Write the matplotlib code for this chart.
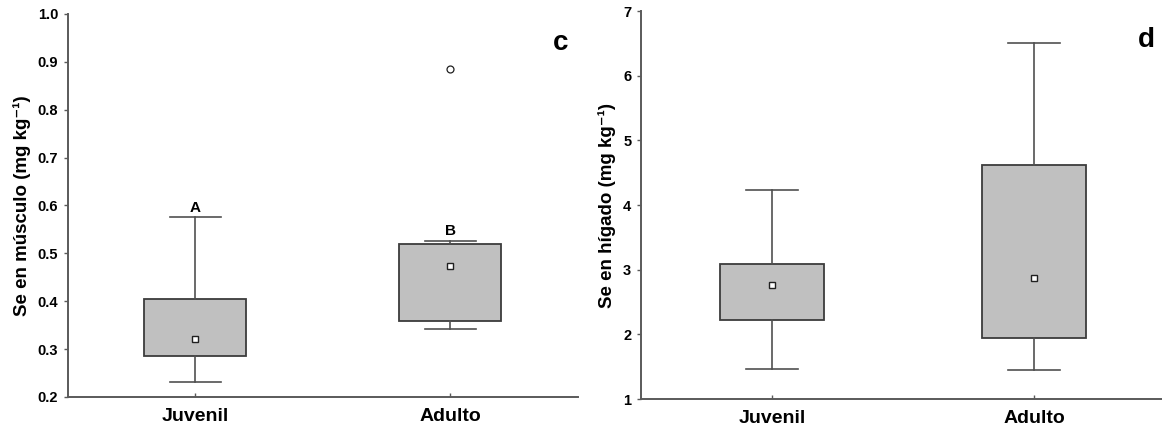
import matplotlib
matplotlib.use('Agg')
import matplotlib.pyplot as plt

plt.rcParams['font.family'] = ['Liberation Sans', 'DejaVu Sans']
plt.rcParams['font.weight'] = 'bold'

grupos = ['Juvenil', 'Adulto']

# Se en músculo (panel c)
musculo_q1 = [0.286, 0.359]
musculo_q3 = [0.404, 0.519]
musculo_min = [0.231, 0.343]
musculo_max = [0.575, 0.526]
musculo_centro = [0.322, 0.474]
musculo_atipicos = [[], [0.885]]
musculo_letras = ['A', 'B']

# Se en hígado (panel d)
higado_q1 = [2.222, 1.948]
higado_q3 = [3.088, 4.623]
higado_min = [1.464, 1.453]
higado_max = [4.227, 6.51]
higado_centro = [2.758, 2.876]
higado_atipicos = [[], []]

GRIS_BORDE = '#3c3c3c'
GRIS_LINEA = '#505050'
GRIS_EJE = '#5a5a5a'


def dibujar_cajas(ax, q1, q3, vmin, vmax, centro, atipicos):
    stats = []
    for i in range(len(grupos)):
        stats.append({
            'med': centro[i], 'mean': centro[i],
            'q1': q1[i], 'q3': q3[i],
            'whislo': vmin[i], 'whishi': vmax[i],
            'fliers': atipicos[i], 'label': grupos[i],
        })
    ax.bxp(stats, positions=[1, 2], widths=0.4, patch_artist=True,
           showmeans=True, showfliers=True,
           boxprops=dict(facecolor='#c0c0c0', edgecolor=GRIS_BORDE, linewidth=1.3),
           whiskerprops=dict(color=GRIS_LINEA, linewidth=1.2),
           capprops=dict(color=GRIS_LINEA, linewidth=1.2),
           capwidths=0.2,
           medianprops=dict(linestyle='none'),
           meanprops=dict(marker='s', markerfacecolor='white', markeredgecolor='#202020',
                          markersize=5, markeredgewidth=1.0),
           flierprops=dict(marker='o', markerfacecolor='white', markeredgecolor='#202020',
                           markersize=5, markeredgewidth=0.9))


def estilo(ax, ylim, yticks, fmt, ylabel, letra):
    ax.set_xlim(0.5, 2.5)
    ax.set_ylim(*ylim)
    ax.set_yticks(yticks)
    ax.set_yticklabels([fmt % v for v in yticks], fontsize=10.5, fontweight='bold')
    ax.set_xticks([1, 2])
    ax.set_xticklabels(grupos, fontsize=14, fontweight='bold')
    for s in ['top', 'right']:
        ax.spines[s].set_visible(False)
    for s in ['left', 'bottom']:
        ax.spines[s].set_color(GRIS_EJE)
        ax.spines[s].set_linewidth(1.4)
    ax.tick_params(axis='y', direction='out', length=3, width=1, color=GRIS_EJE, pad=4)
    ax.tick_params(axis='x', direction='in', length=3, width=1, color=GRIS_EJE, pad=8)
    ax.set_ylabel(ylabel, fontsize=13.5, fontweight='bold', labelpad=5)
    ax.text(0.965, 0.925, letra, transform=ax.transAxes, fontsize=20,
            fontweight='bold', ha='center', va='center')


fig = plt.figure(figsize=(11.62, 4.29), dpi=100)

ax1 = fig.add_axes([0.0585, 0.0746, 0.4389, 0.8928])
dibujar_cajas(ax1, musculo_q1, musculo_q3, musculo_min, musculo_max,
              musculo_centro, musculo_atipicos)
estilo(ax1, (0.2, 1.0), [0.2, 0.3, 0.4, 0.5, 0.6, 0.7, 0.8, 0.9, 1.0], '%.1f',
       'Se en músculo (mg kg⁻¹)', 'c')
for i, letra in enumerate(musculo_letras):
    ax1.annotate(letra, (i + 1, musculo_max[i]), xytext=(0, 2), textcoords='offset points',
                 ha='center', va='bottom', fontsize=11, fontweight='bold')

ax2 = fig.add_axes([0.5516, 0.0699, 0.4509, 0.9044])
dibujar_cajas(ax2, higado_q1, higado_q3, higado_min, higado_max,
              higado_centro, higado_atipicos)
estilo(ax2, (1, 7), [1, 2, 3, 4, 5, 6, 7], '%d',
       'Se en hígado (mg kg⁻¹)', 'd')

fig.savefig('out.png', dpi=100, facecolor='white')
